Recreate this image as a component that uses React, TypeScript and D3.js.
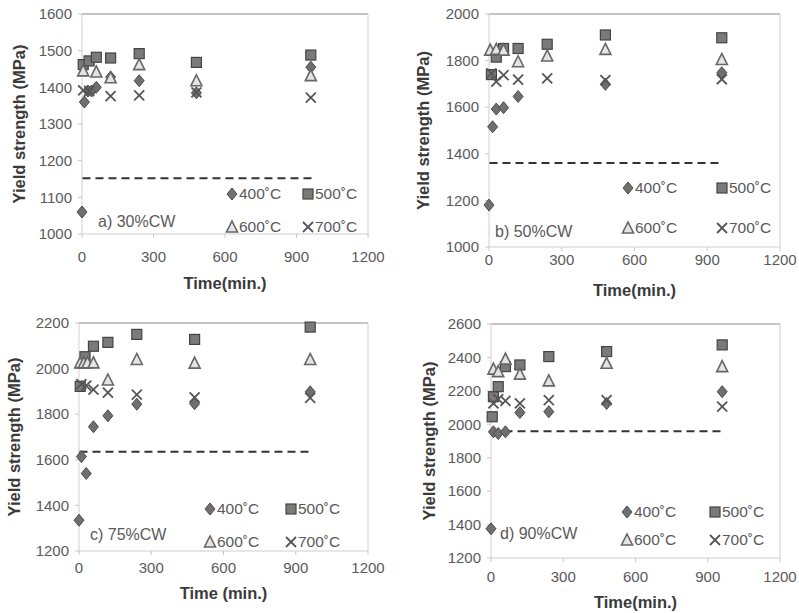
import React from 'react';
import * as d3 from 'd3';

// annealing time (min) vs yield strength (MPa)
const a400 = [[0, 1060], [10, 1360], [25, 1390], [40, 1390], [60, 1400], [120, 1428], [240, 1418], [480, 1385], [960, 1455]];
const a500 = [[5, 1462], [30, 1472], [60, 1482], [120, 1480], [240, 1492], [480, 1468], [960, 1488]];
const a600 = [[5, 1445], [60, 1442], [120, 1426], [240, 1462], [480, 1418], [960, 1432]];
const a700 = [[5, 1392], [30, 1390], [120, 1376], [240, 1378], [480, 1386], [960, 1372]];

const b400 = [[0, 1180], [15, 1516], [30, 1592], [60, 1598], [120, 1646], [480, 1698], [960, 1748]];
const b500 = [[10, 1740], [30, 1815], [60, 1852], [120, 1852], [240, 1870], [480, 1910], [960, 1898]];
const b600 = [[5, 1845], [30, 1848], [60, 1845], [120, 1795], [240, 1820], [480, 1848], [960, 1805]];
const b700 = [[10, 1745], [30, 1710], [60, 1738], [120, 1718], [240, 1724], [480, 1716], [960, 1720]];

const c400 = [[0, 1335], [10, 1614], [30, 1540], [60, 1745], [120, 1793], [240, 1844], [480, 1846], [960, 1898]];
const c500 = [[5, 1922], [25, 2052], [60, 2098], [120, 2115], [240, 2150], [480, 2128], [960, 2182]];
const c600 = [[5, 2025], [20, 2025], [35, 2025], [60, 2025], [120, 1950], [240, 2040], [480, 2024], [960, 2040]];
const c700 = [[10, 1932], [30, 1925], [60, 1908], [120, 1895], [240, 1886], [480, 1874], [960, 1872]];

const d400 = [[0, 1375], [10, 1955], [30, 1945], [60, 1955], [120, 2070], [240, 2075], [480, 2125], [960, 2195]];
const d500 = [[5, 2045], [10, 2165], [30, 2225], [60, 2345], [120, 2355], [240, 2405], [480, 2435], [960, 2475]];
const d600 = [[10, 2330], [30, 2315], [60, 2390], [120, 2300], [240, 2260], [480, 2365], [960, 2345]];
const d700 = [[10, 2125], [30, 2150], [60, 2140], [120, 2125], [240, 2145], [480, 2145], [960, 2105]];

// as-cold-worked yield strength (dashed reference line)
const baselines = [1152, 1360, 1635, 1958];
const panelLabels = ['a) 30%CW', 'b) 50%CW', 'c) 75%CW', 'd) 90%CW'];
const yDomains = [[1000, 1600], [1000, 2000], [1200, 2200], [1200, 2600]];
const yTickSteps = [100, 200, 200, 200];
const xTicks = [0, 300, 600, 900, 1200];
const seriesNames = ['400˚C', '500˚C', '600˚C', '700˚C'];
const xTitles = ['Time(min.)', 'Time(min.)', 'Time (min.)', 'Time(min.)'];
const yTitles = ['Yield  strength (MPa)', 'Yield strength (MPa)', 'Yield strength (MPa)', 'Yield strength (MPa)'];

const panelData = [
  [a400, a500, a600, a700],
  [b400, b500, b600, b700],
  [c400, c500, c600, c700],
  [d400, d500, d600, d700],
];

// page layout of each panel
const boxes = [
  { left: 82, top: 14, right: 368, bottom: 234, xLabOff: 28, yTitleX: 19, xTitleY: 289, legX: [232, 308], legY: [194, 227], labX: 98, labY: 221 },
  { left: 489, top: 14, right: 780, bottom: 247, xLabOff: 18, yTitleX: 423, xTitleY: 296, legX: [628, 722], legY: [188, 228], labX: 495, labY: 231 },
  { left: 79, top: 323, right: 368, bottom: 551, xLabOff: 22, yTitleX: 14, xTitleY: 599, legX: [210, 291], legY: [509, 542], labX: 90, labY: 534 },
  { left: 491, top: 324, right: 780, bottom: 558, xLabOff: 24, yTitleX: 429, xTitleY: 608, legX: [627, 715], legY: [512, 540], labX: 500, labY: 533 },
];

const FONT = '"Liberation Sans", Arial, sans-serif';
const TXT = '#5a5a5a';

const Marker = ({ kind, x, y }: { kind: number; x: number; y: number }) => {
  const s = 5;
  if (kind === 0) {
    return <path d={`M${x},${y - s - 1}L${x + s},${y}L${x},${y + s + 1}L${x - s},${y}Z`} fill="#6f6f6f" stroke="#4a4a4a" strokeWidth={1} />;
  }
  if (kind === 1) {
    return <rect x={x - s} y={y - s} width={2 * s} height={2 * s} fill="#7a7a7a" stroke="#444" strokeWidth={1.2} />;
  }
  if (kind === 2) {
    return <path d={`M${x},${y - s - 1}L${x + s + 0.5},${y + s}L${x - s - 0.5},${y + s}Z`} fill="#e4e4e4" stroke="#666" strokeWidth={1.6} />;
  }
  return (
    <g stroke="#555" strokeWidth={1.8}>
      <line x1={x - 5} y1={y - 5} x2={x + 5} y2={y + 5} />
      <line x1={x - 5} y1={y + 5} x2={x + 5} y2={y - 5} />
    </g>
  );
};

const Panel = ({ i }: { i: number }) => {
  const b = boxes[i];
  const x = d3.scaleLinear().domain([0, 1200]).range([b.left, b.right]);
  const y = d3.scaleLinear().domain(yDomains[i]).range([b.bottom, b.top]);
  const yTicks = d3.range(yDomains[i][0], yDomains[i][1] + 1, yTickSteps[i]);
  const midY = (b.top + b.bottom) / 2;

  return (
    <g fontFamily={FONT}>
      {/* plot frame */}
      <line x1={b.left} x2={b.right} y1={b.top} y2={b.top} stroke="#8a8a8a" strokeWidth={1.2} />
      <line x1={b.right} x2={b.right} y1={b.top} y2={b.bottom} stroke="#d0d0d0" />
      <line x1={b.left} x2={b.right} y1={b.bottom} y2={b.bottom} stroke="#cfcfcf" />
      <line x1={b.left} x2={b.left} y1={b.top} y2={b.bottom} stroke="#cfcfcf" />
      {yTicks.map(t => (
        <g key={'y' + t}>
          <line x1={b.left - 4} x2={b.left} y1={y(t)} y2={y(t)} stroke="#c8c8c8" />
          <text x={b.left - 10} y={y(t)} dy="0.35em" textAnchor="end" fontSize={15} fill={TXT}>{t}</text>
        </g>
      ))}
      {xTicks.map(t => (
        <g key={'x' + t}>
          <line x1={x(t)} x2={x(t)} y1={b.bottom} y2={b.bottom + 4} stroke="#c8c8c8" />
          <text x={x(t)} y={b.bottom + b.xLabOff} textAnchor="middle" fontSize={15} fill={TXT}>{t}</text>
        </g>
      ))}
      <text x={(b.left + b.right) / 2} y={b.xTitleY} textAnchor="middle" fontSize={16.5} fontWeight="bold" fill="#3a3a3a">{xTitles[i]}</text>
      <text transform={`translate(${b.yTitleX},${midY}) rotate(-90)`} textAnchor="middle" dy="0.35em" fontSize={16.5} fontWeight="bold" fill="#3a3a3a">{yTitles[i]}</text>

      {/* dashed as-cold-worked level */}
      <line x1={x(2)} x2={x(965)} y1={y(baselines[i])} y2={y(baselines[i])} stroke="#333" strokeWidth={2} strokeDasharray="8,5" />

      {panelData[i].map((series, k) => (
        <g key={'s' + k}>
          {series.map((p, j) => <Marker key={j} kind={k} x={x(p[0])} y={y(p[1])} />)}
        </g>
      ))}

      {seriesNames.map((name, k) => {
        const lx = b.legX[k % 2];
        const ly = b.legY[Math.floor(k / 2)];
        return (
          <g key={'l' + k}>
            <Marker kind={k} x={lx} y={ly} />
            <text x={lx + 7} y={ly} dy="0.35em" fontSize={15.5} fill={TXT}>{name}</text>
          </g>
        );
      })}
      <text x={b.labX} y={b.labY} dy="0.35em" fontSize={16} fill={TXT}>{panelLabels[i]}</text>
    </g>
  );
};

const App = () => (
  <svg width={799} height={613} style={{ position: 'absolute', left: 0, top: 0, background: '#fff' }}>
    <rect width={799} height={613} fill="#fff" />
    {[0, 1, 2, 3].map(i => <Panel key={i} i={i} />)}
  </svg>
);

export default App;
